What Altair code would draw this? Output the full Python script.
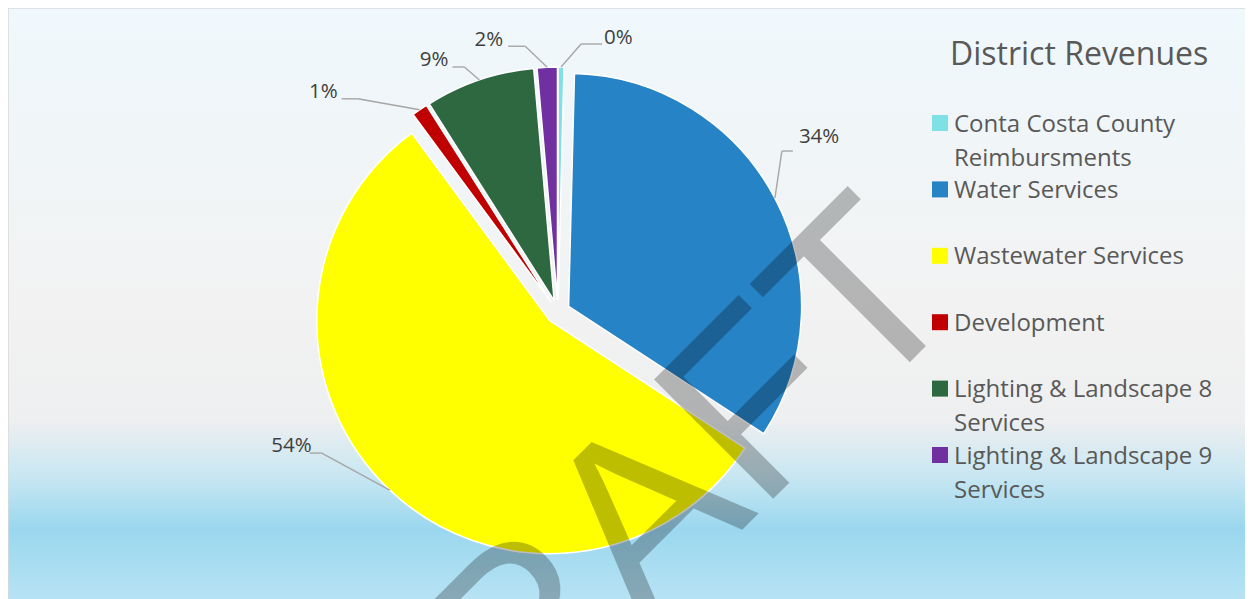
import altair as alt
import pandas as pd

# ---------------- data ----------------
categories = [
    "Conta Costa County Reimbursments",
    "Water Services",
    "Wastewater Services",
    "Development",
    "Lighting & Landscape 8 Services",
    "Lighting & Landscape 9 Services",
]
shares = [0.4, 33.8, 55.7, 1.1, 7.6, 1.4]
pct_labels = ["0%", "34%", "54%", "1%", "9%", "2%"]
legend_labels = [
    "Conta Costa County\nReimbursments",
    "Water Services",
    "Wastewater Services",
    "Development",
    "Lighting & Landscape 8\nServices",
    "Lighting & Landscape 9\nServices",
]
title_text = "District Revenues"
watermark_text = "DRAFT"

# ---------------- style / layout ----------------
colors = ["#7fe0e6", "#2683c6", "#ffff00", "#c00000", "#2e6840", "#7030a0"]
W, H = 1237, 591
CX, CY = 550, 304
R = 233
EXPLODE = 12
# leader line elbow offsets, horizontal tail length, text nudges
leader_dx = [20, 7, -68, -62, -15, -22]
leader_dy = [-23, -47, -37, -11, -13, -21]
tail = [21, 11, -12, -16, -12, -17]
text_dx = [2, 6, 2, -4, -4, -5]
text_dy = [-6, -14, -7, -7, -7, -6]
FONT = "Open Sans"

df = pd.DataFrame({
    "cat": categories,
    "share": shares,
    "lab": pct_labels,
    "order": list(range(len(categories))),
    "ldx": leader_dx, "ldy": leader_dy, "hl": tail,
    "tdx": text_dx, "tdy": text_dy,
})
leg_df = pd.DataFrame({"cat": categories, "lab": legend_labels,
                       "idx": list(range(len(categories)))})
one = pd.DataFrame({"t": [title_text], "w": [watermark_text]})

color_scale = alt.Scale(domain=categories, range=colors)

base = (
    alt.Chart(df)
    .transform_joinaggregate(total="sum(share)")
    .transform_window(cum="sum(share)", sort=[alt.SortField("order")], frame=[None, 0])
    .transform_calculate(
        t0="2*PI*(datum.cum-datum.share)/datum.total",
        t1="2*PI*datum.cum/datum.total",
    )
    .transform_calculate(mid="(datum.t0+datum.t1)/2")
    .transform_calculate(
        px=f"{CX}+{EXPLODE}*sin(datum.mid)",
        py=f"{CY}-{EXPLODE}*cos(datum.mid)",
    )
    .transform_calculate(
        sx=f"datum.px+{R}*sin(datum.mid)",
        sy=f"datum.py-{R}*cos(datum.mid)",
    )
    .transform_calculate(ex="datum.sx+datum.ldx", ey="datum.sy+datum.ldy")
    .transform_calculate(hx="datum.ex+datum.hl")
    .transform_calculate(tx="datum.hx+datum.tdx", ty="datum.ey+datum.tdy")
)

bg = alt.Chart(one).mark_rect(
    color=alt.Gradient(
        gradient="linear", x1=0, x2=0, y1=0, y2=1,
        stops=[
            alt.GradientStop(offset=0.0, color="#eff8fc"),
            alt.GradientStop(offset=0.49, color="#f2f2f2"),
            alt.GradientStop(offset=0.68, color="#eeeff0"),
            alt.GradientStop(offset=0.77, color="#c9e7f2"),
            alt.GradientStop(offset=0.86, color="#9ad7ef"),
            alt.GradientStop(offset=1.0, color="#bde5f5"),
        ],
    ),
    stroke="#d9d9d9", strokeWidth=1.5,
).encode(x=alt.value(0), x2=alt.value(W + 10), y=alt.value(0), y2=alt.value(H + 15))

arcs = base.mark_arc(outerRadius=R, stroke="white", strokeWidth=1.5).encode(
    x=alt.X("px:Q", scale=None, axis=None),
    y=alt.Y("py:Q", scale=None, axis=None),
    theta=alt.Theta("t0:Q", scale=None),
    theta2="t1:Q",
    color=alt.Color("cat:N", scale=color_scale, legend=None),
)

lead1 = base.mark_rule(color="#a6a6a6", strokeWidth=1.4).encode(
    x=alt.X("sx:Q", scale=None), y=alt.Y("sy:Q", scale=None), x2="ex:Q", y2="ey:Q"
)
lead2 = base.mark_rule(color="#a6a6a6", strokeWidth=1.4).encode(
    x=alt.X("ex:Q", scale=None), y=alt.Y("ey:Q", scale=None), x2="hx:Q", y2="ey:Q"
)
lab_r = base.transform_filter("datum.hl > 0").mark_text(
    align="left", baseline="middle", font=FONT, fontSize=20.5, color="#404040"
).encode(x=alt.X("tx:Q", scale=None), y=alt.Y("ty:Q", scale=None), text="lab:N")
lab_l = base.transform_filter("datum.hl < 0").mark_text(
    align="right", baseline="middle", font=FONT, fontSize=20.5, color="#404040"
).encode(x=alt.X("tx:Q", scale=None), y=alt.Y("ty:Q", scale=None), text="lab:N")

leg_base = alt.Chart(leg_df).transform_calculate(
    ly="115+66.4*datum.idx", lty="115+66.4*datum.idx+8.5"
)
leg_sq = leg_base.mark_square(size=256, opacity=1).encode(
    x=alt.value(932), y=alt.Y("ly:Q", scale=None),
    color=alt.Color("cat:N", scale=color_scale, legend=None),
)
leg_tx = leg_base.mark_text(
    align="left", baseline="alphabetic", lineBreak="\n", lineHeight=34,
    font=FONT, fontSize=24, color="#595959",
).encode(x=alt.value(946), y=alt.Y("lty:Q", scale=None), text="lab:N")

title = alt.Chart(one).mark_text(
    align="left", baseline="alphabetic", font=FONT, fontSize=32, color="#595959"
).encode(x=alt.value(942), y=alt.value(57), text="t:N")

wm = alt.Chart(one).mark_text(
    align="center", baseline="alphabetic", angle=315, font="Liberation Sans",
    fontSize=245, color="black", opacity=0.25,
).encode(x=alt.value(674), y=alt.value(582), text="w:N")

chart = (
    alt.layer(bg, arcs, lead1, lead2, lab_r, lab_l, leg_sq, leg_tx, title, wm)
    .properties(width=W, height=H, padding=0, autosize="none", background="white")
    .configure_view(strokeWidth=0)
)

chart.save("out.html", embed_options={"renderer": "svg", "actions": False})
